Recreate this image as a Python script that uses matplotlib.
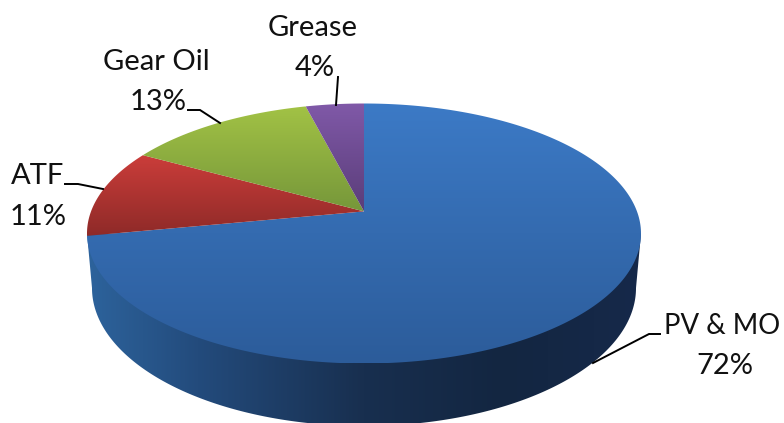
import numpy as np
import matplotlib
matplotlib.use('Agg')
import matplotlib.pyplot as plt
from matplotlib.colors import LinearSegmentedColormap
from matplotlib.patches import Polygon

labels = ['PV & MO', 'ATF', 'Gear Oil', 'Grease']
values = [72, 11, 13, 4]

# top/bottom colour of each slice
top_colors = ['#3c7ac6', '#cb3d3a', '#a2c245', '#8059a8']
bot_colors = ['#2c5c9a', '#8e2a28', '#76973a', '#5a3d79']
side_xs = [0.0, 0.2, 0.5, 0.75, 1.0]
side_colors = ['#2d639c', '#234b7c', '#182f4f', '#132641', '#16294a']

# pixel layout of the pie
cx, cy = 364, 233.5
rx, ry = 277, 130
k = 0.17  # perspective, moves the apex up
bot_cy, bot_rx, bot_ry = 288, 272, 138

name_pos = [(722, 326), (38, 176), (156, 62), (313, 28)]
name_size = [19.8, 21, 21, 21]
pct_pos = [(725, 366), (38, 217), (158, 102), (315, 68)]
leaders = [
    ([660, 649, 593], [334, 334, 363]),
    ([65, 78, 103], [184, 184, 189]),
    ([188, 200, 220], [110, 110, 123]),
    ([338, 336], [77, 105]),
]


def project(u, v):
    # circle to circle perspective, then squash to the ellipse
    d = 1 + k * v
    return cx + rx * u * np.sqrt(1 - k ** 2) / d, cy - ry * (v + k) / d


def gradient(ax, path, extent, colors, horizontal=False):
    cmap = LinearSegmentedColormap.from_list('g', colors)
    g = np.linspace(0, 1, 256)
    g = g.reshape(1, -1) if horizontal else g.reshape(-1, 1)
    im = ax.imshow(g, cmap=cmap, extent=extent, origin='upper', aspect='auto',
                   interpolation='bilinear', zorder=2)
    patch = Polygon(path, closed=True, transform=ax.transData, fc='none', ec='none')
    ax.add_patch(patch)
    im.set_clip_path(patch)


fig = plt.figure(figsize=(7.84, 4.23), dpi=100)
ax = fig.add_axes([0, 0, 1, 1])

# side wall
t = np.linspace(0, np.pi, 300)
wall_x = np.r_[cx + rx, cx + bot_rx * np.cos(t), cx - rx]
wall_y = np.r_[cy, bot_cy + bot_ry * np.sin(t), cy]
wall = np.c_[wall_x, wall_y]
side_cmap = list(zip(side_xs, side_colors))
gradient(ax, wall, [cx - rx, cx + rx, 440, 100], side_cmap, horizontal=True)

# top face, clockwise from 12 o'clock
fracs = np.cumsum([0] + values) / sum(values) * 2 * np.pi
for i in range(len(values)):
    a = np.linspace(fracs[i], fracs[i + 1], 300)
    x, y = project(np.sin(a), np.cos(a))
    ax_, ay_ = project(0, 0)
    x = np.r_[ax_, x]
    y = np.r_[ay_, y]
    gradient(ax, np.c_[x, y], [x.min(), x.max(), y.max(), y.min()],
             [top_colors[i], bot_colors[i]])

for (lx, ly) in leaders:
    ax.plot(lx, ly, color='black', lw=1.4, zorder=3, solid_joinstyle='miter')

for i in range(len(values)):
    ax.text(name_pos[i][0], name_pos[i][1], labels[i], family='Lato', fontsize=name_size[i],
            ha='center', va='center', color='#111111', zorder=4)
    ax.text(pct_pos[i][0], pct_pos[i][1], '%d%%' % values[i], family='Lato', fontsize=21,
            ha='center', va='center', color='#111111', zorder=4)

ax.set_xlim(0, 784)
ax.set_ylim(423, 0)
ax.axis('off')
fig.savefig('out.png', dpi=100)
